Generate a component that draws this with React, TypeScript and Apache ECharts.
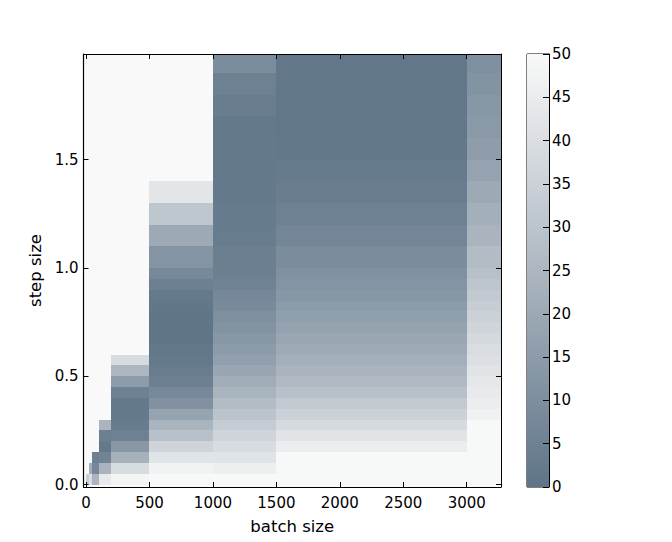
import React, { useEffect, useRef } from "react";
import * as echarts from "echarts";

// Column edges (batch size) and row edges (step size)
const batchEdges = [0, 20, 50, 100, 200, 500, 1000, 1500, 3000, 3270];
const stepEdges = [
  0, 0.05, 0.1, 0.15, 0.2, 0.25, 0.3, 0.35, 0.4, 0.45, 0.5, 0.55, 0.6, 0.65, 0.7,
  0.75, 0.8, 0.85, 0.9, 0.95, 1.0, 1.1, 1.2, 1.3, 1.4, 1.5, 1.6, 1.7, 1.8, 1.9, 2.0,
];

// Values per batch-size column, rows listed bottom (step 0) to top
const col0to20 = [34, 50, 50, 50, 50, 50, 50, 50, 50, 50, 50, 50, 50, 50, 50, 50, 50, 50, 50, 50, 50, 50, 50, 50, 50, 50, 50, 50, 50, 50];
const col20to50 = [40, 22, 50, 50, 50, 50, 50, 50, 50, 50, 50, 50, 50, 50, 50, 50, 50, 50, 50, 50, 50, 50, 50, 50, 50, 50, 50, 50, 50, 50];
const col50to100 = [24, 7, 5, 50, 50, 50, 50, 50, 50, 50, 50, 50, 50, 50, 50, 50, 50, 50, 50, 50, 50, 50, 50, 50, 50, 50, 50, 50, 50, 50];
const col100to200 = [44, 24, 6, 2, 4.5, 24, 50, 50, 50, 50, 50, 50, 50, 50, 50, 50, 50, 50, 50, 50, 50, 50, 50, 50, 50, 50, 50, 50, 50, 50];
const col200to500 = [48, 39, 23, 13, 5, 3, 2, 2, 5, 15, 25, 39, 50, 50, 50, 50, 50, 50, 50, 50, 50, 50, 50, 50, 50, 50, 50, 50, 50, 50];
const col500to1000 = [49.5, 47.5, 42, 36, 29, 24, 18, 11, 7.5, 4.5, 3, 2, 1, 0.5, 0.5, 0.5, 1, 2, 4.5, 7.5, 12, 20, 31, 43, 50, 50, 50, 50, 50, 50];
const col1000to1500 = [49.5, 46, 42, 39, 36, 33, 30, 27, 24, 21, 18.5, 16.5, 14.5, 13, 11.5, 10, 8.5, 7, 5.5, 4.5, 4, 3, 2.5, 2, 2, 2, 2, 3.5, 5, 9];
const col1500to3000 = [49.5, 49.5, 49.5, 45.5, 42, 38.5, 35, 32, 29, 26.5, 24, 22, 20.5, 19, 17.5, 16, 14.5, 13, 12, 11, 9, 6.5, 5, 3.5, 2.5, 1.5, 1, 1, 1, 1];
const col3000up = [49.5, 49.5, 49.5, 49.5, 49.5, 49.5, 47, 45.5, 44.5, 43.5, 42, 40.5, 39.5, 38, 36.5, 35, 33.5, 32, 30.5, 29, 27, 24, 22, 20, 17.5, 15.5, 14, 13, 11.5, 10];

const columns = [col0to20, col20to50, col50to100, col100to200, col200to500, col500to1000, col1000to1500, col1500to3000, col3000up];

const xTicks = [0, 500, 1000, 1500, 2000, 2500, 3000];
const yTicks = [0, 0.5, 1.0, 1.5];
const cbarMin = 0;
const cbarMax = 50;

const COLOR_LOW = "#5f7488";
const COLOR_HIGH = "#f9f9f9";
const FONT = "DejaVu Sans";

export default function App() {
  const ref = useRef<HTMLDivElement>(null);

  useEffect(() => {
    if (!ref.current) return;
    const chart = echarts.init(ref.current, null, { renderer: "svg" });

    const cells: number[][] = [];
    columns.forEach((col, ci) => {
      col.forEach((v, ri) => {
        cells.push([batchEdges[ci], batchEdges[ci + 1], stepEdges[ri], stepEdges[ri + 1], v]);
      });
    });

    const renderCell = (params: any, api: any) => {
      const p0 = api.coord([api.value(0), api.value(2)]);
      const p1 = api.coord([api.value(1), api.value(3)]);
      const x0 = Math.round(p0[0]);
      const x1 = Math.round(p1[0]);
      const yb = Math.round(p0[1]);
      const yt = Math.round(p1[1]);
      const cs = params.coordSys;
      const shape = echarts.graphic.clipRectByRect(
        { x: x0, y: yt, width: x1 - x0, height: yb - yt },
        { x: cs.x, y: cs.y, width: cs.width, height: cs.height }
      );
      if (!shape) return null;
      const c = api.visual("color");
      return { type: "rect", shape, style: { fill: c } };
    };

    const renderBar = (params: any, api: any) => {
      const p0 = api.coord([0, api.value(0)]);
      const p1 = api.coord([1, api.value(1)]);
      return {
        type: "rect",
        shape: { x: p0[0], y: p1[1], width: p1[0] - p0[0], height: p0[1] - p1[1] },
        style: {
          fill: {
            type: "linear",
            x: 0, y: 1, x2: 0, y2: 0,
            colorStops: [
              { offset: 0, color: COLOR_LOW },
              { offset: 1, color: COLOR_HIGH },
            ],
          },
        },
      };
    };

    const lineStyle = { color: "#000", width: 1 };
    const labelStyle = { color: "#000", fontSize: 15, fontFamily: FONT };
    const nameStyle = { color: "#000", fontSize: 16.5, fontFamily: FONT };

    chart.setOption({
      animation: false,
      backgroundColor: "#ffffff",
      textStyle: { fontFamily: FONT },
      grid: [
        { left: 83.5, top: 54, width: 417.5, height: 433, show: true, z: 0, backgroundColor: COLOR_HIGH, borderColor: "transparent", borderWidth: 0 },
        { left: 527, top: 54, width: 22, height: 433, show: true, z: 0, borderColor: "#000", borderWidth: 1, backgroundColor: "transparent" },
      ],
      visualMap: {
        type: "continuous",
        show: false,
        min: cbarMin,
        max: cbarMax,
        dimension: 4,
        seriesIndex: 0,
        inRange: { color: [COLOR_LOW, COLOR_HIGH] },
      },
      xAxis: [
        {
          gridIndex: 0, type: "value", min: -20, max: 3270, position: "bottom", z: 10,
          axisLine: { show: true, onZero: false, lineStyle },
          axisTick: { show: true, inside: true, length: 5, lineStyle, customValues: xTicks },
          axisLabel: { ...labelStyle, margin: 8, customValues: xTicks, formatter: (v: number) => String(v) },
          splitLine: { show: false },
          name: "batch size", nameLocation: "middle", nameGap: 31,
          nameTextStyle: nameStyle,
        },
        {
          gridIndex: 0, type: "value", min: -20, max: 3270, position: "top", z: 10,
          axisLine: { show: true, onZero: false, lineStyle },
          axisTick: { show: true, inside: true, length: 5, lineStyle, customValues: xTicks },
          axisLabel: { show: false },
          splitLine: { show: false },
        },
        { gridIndex: 1, type: "value", min: 0, max: 1, show: false },
      ],
      yAxis: [
        {
          gridIndex: 0, type: "value", min: -0.011, max: 1.988, position: "left", z: 10,
          axisLine: { show: true, onZero: false, lineStyle: { color: "#000", width: 1.2 } },
          axisTick: { show: true, inside: true, length: 5, lineStyle, customValues: yTicks },
          axisLabel: { ...labelStyle, margin: 5, customValues: yTicks, formatter: (v: number) => v.toFixed(1) },
          splitLine: { show: false },
          name: "step size", nameLocation: "middle", nameGap: 38, nameRotate: 90,
          nameTextStyle: nameStyle,
        },
        {
          gridIndex: 0, type: "value", min: -0.011, max: 1.988, position: "right", z: 10,
          axisLine: { show: true, onZero: false, lineStyle },
          axisTick: { show: true, inside: true, length: 5, lineStyle, customValues: yTicks },
          axisLabel: { show: false },
          splitLine: { show: false },
        },
        {
          gridIndex: 1, type: "value", min: cbarMin, max: cbarMax, interval: 5, position: "right", z: 10,
          axisLine: { show: true, onZero: false, lineStyle },
          axisTick: { show: true, inside: true, length: 6, lineStyle },
          axisLabel: { ...labelStyle, margin: 3 },
          splitLine: { show: false },
        },
      ],
      series: [
        {
          type: "custom",
          xAxisIndex: 0,
          yAxisIndex: 0,
          renderItem: renderCell,
          encode: { x: [0, 1], y: [2, 3] },
          data: cells,
          z: 1,
        },
        {
          type: "custom",
          xAxisIndex: 2,
          yAxisIndex: 2,
          renderItem: renderBar,
          encode: { y: [0, 1] },
          data: [[cbarMin, cbarMax]],
          z: 1,
        },
      ],
    });

    return () => chart.dispose();
  }, []);

  return (
    <div
      ref={ref}
      style={{ position: "fixed", left: 0, top: 0, width: "672px", height: "542px" }}
    />
  );
}
